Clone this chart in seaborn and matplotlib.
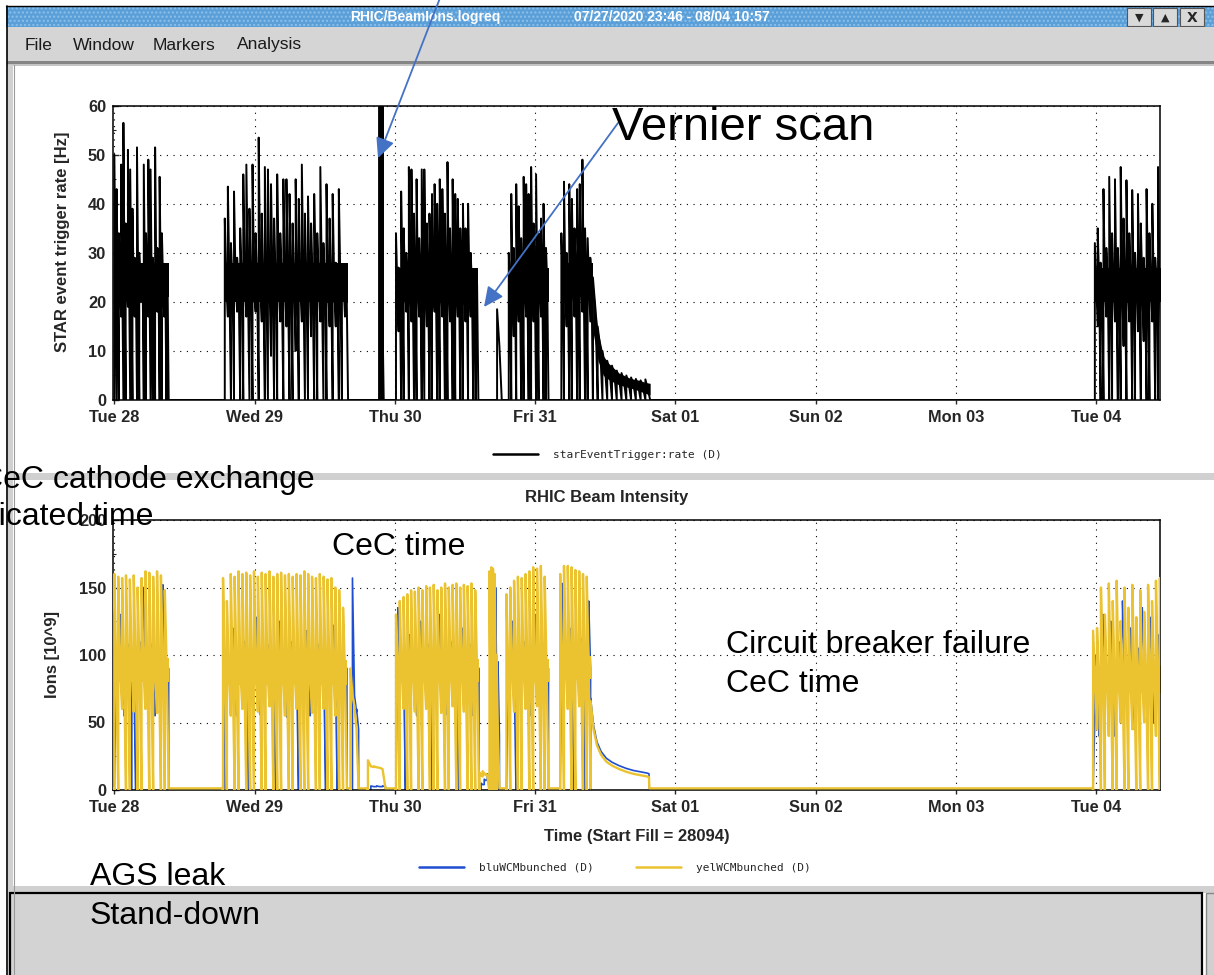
import numpy as np
import pandas as pd
import seaborn as sns
import matplotlib.pyplot as plt
from matplotlib.patches import Rectangle
from matplotlib.lines import Line2D
from matplotlib.ticker import MultipleLocator

sns.set_style("ticks")
plt.rcParams['font.family'] = ['Liberation Sans', 'DejaVu Sans']

# time axis: hours from Tue 28 Jul 2020 00:00
day_ticks = [0, 24, 48, 72, 96, 120, 144, 168]
day_labels = ['Tue 28', 'Wed 29', 'Thu 30', 'Fri 31', 'Sat 01', 'Sun 02', 'Mon 03', 'Tue 04']
x_start, x_end = -0.23, 178.95

# ---- STAR event trigger rate [Hz], read per fill block ----
trig_A_peak = [50, 43, 34, 48, 56.5, 36, 51, 47, 39, 29, 51.5, 30, 22, 48, 34, 49, 47, 29, 51.5, 31, 45.5, 34, 26, 22]
trig_A_floor = [0, 0, 0, 17, 0, 0, 19, 0, 0, 17, 0, 0, 20, 0, 0, 17, 0, 0, 0, 18, 0, 0, 17, 0]
trig_B_peak = [37, 43.5, 32, 42.5, 29, 35, 46, 48, 39, 48, 34, 53.5, 38, 47.5, 47, 44, 37, 46, 34, 45,
               45, 42, 36, 45, 41, 48, 38, 41.5, 36, 42, 34, 47.5, 32, 44, 37, 42, 28, 43, 25, 24]
trig_B_floor = [0, 17, 0, 0, 18, 0, 0, 17, 0, 0, 18, 0, 16, 0, 0, 9, 0, 0, 16, 0,
                15, 0, 0, 10, 0, 16, 0, 0, 13, 0, 0, 16, 0, 0, 15, 0, 15, 0, 0, 17]
trig_bar_peak = [65]
trig_bar_floor = [0]
trig_C_peak = [34, 27, 42.5, 35, 30, 47.5, 47, 38, 45, 33, 47, 47, 36, 38, 42, 44, 40, 45, 43, 38,
               48.5, 35, 45, 42, 41, 35, 40, 35, 40, 30, 25, 22]
trig_C_floor = [0, 14, 0, 0, 18, 0, 16, 0, 0, 17, 0, 0, 15, 0, 0, 18, 0, 0, 17, 0,
                0, 16, 0, 0, 17, 0, 0, 16, 0, 17, 0, 0]
trig_S_peak = [18.5]
trig_S_floor = [0]
trig_D_peak = [30, 42, 31, 44, 39.5, 33, 45.5, 44, 42, 47.5, 36, 46, 34, 37, 40, 31]
trig_D_floor = [0, 0, 13, 0, 16, 0, 0, 17, 0, 0, 16, 0, 0, 17, 0, 0]
trig_E_peak = [34, 44.5, 30, 44, 41, 35, 43, 44, 49, 35, 33, 29]
trig_E_floor = [0, 0, 15, 0, 0, 17, 0, 0, 18, 0, 0, 16]
trig_T_peak = [25, 15, 10, 8, 7, 6, 5.5, 5, 4.6, 4.3, 4, 4.2]
trig_T_floor = [0, 0, 0, 0, 0, 0, 0, 0, 0, 0, 0, 0]
trig_T_hi = [24, 14, 9, 7.5, 6.5, 5.5, 5, 4.5, 4.2, 4, 3.6, 3.4]
trig_T_lo = [14, 8, 5, 4.2, 3.6, 3.1, 2.8, 2.5, 2.2, 1.8, 1.4, 1.0]
trig_F_peak = [32, 35, 28, 43, 31, 45.5, 34, 45, 31, 47.5, 37, 44.8, 34, 42.8, 30, 42, 36, 29, 43, 34, 40, 29, 47.5, 33]
trig_F_floor = [0, 15, 0, 0, 17, 0, 0, 16, 0, 0, 11, 0, 16, 0, 0, 14, 0, 12, 0, 0, 16, 0, 0, 15]

# ---- RHIC beam intensity [10^9], yellow and blue rings ----
yel_A_peak = [160, 158, 157, 159, 156, 159, 150, 157, 162, 161, 158, 162, 159, 148]
yel_A_floor = [0, 0, 60, 0, 0, 58, 0, 0, 60, 0, 0, 57, 0, 0]
blu_A_peak = [92, 130, 65, 108, 92, 62, 110, 150, 92, 108, 65, 92, 152, 92]
blu_A_floor = [88, 120, 55, 96, 0, 0, 100, 138, 88, 98, 55, 88, 140, 88]
yel_B_peak = [157, 140, 160, 158, 162, 160, 161, 159, 162, 158, 161, 160, 162, 158, 160, 161,
              159, 160, 158, 160, 159, 162, 160, 158, 157, 160, 158, 156, 157, 150, 148, 135]
yel_B_floor = [0, 0, 55, 0, 0, 60, 0, 0, 0, 58, 0, 0, 62, 0, 0, 0,
               55, 0, 0, 60, 0, 0, 0, 57, 0, 0, 60, 0, 0, 55, 0, 0]
blu_B_peak = [62, 92, 120, 65, 92, 110, 60, 92, 128, 66, 92, 108, 92, 62, 125, 92,
              65, 110, 92, 60, 92, 118, 65, 92, 108, 92, 60, 92, 122, 64, 92, 92]
blu_B_floor = [0, 88, 108, 55, 88, 98, 0, 88, 115, 56, 88, 98, 88, 0, 112, 88,
               54, 98, 88, 0, 88, 106, 55, 88, 96, 88, 0, 88, 110, 0, 88, 88]
yel_K_peak = [90, 60]
yel_K_floor = [0, 62]
yel_K_mid = [70, 45]
blu_K_peak = [157, 60]
blu_K_floor = [0, 58]
yel_S_peak = [22, 17.5, 16.5]
yel_S_floor = [0, 17, 16.5]
yel_S_mid = [17.5, 16.8, 15.5]
blu_S_peak = [3, 3, 3]
blu_S_floor = [0, 2.5, 2.5]
yel_C_peak = [130, 140, 143, 145, 148, 147, 150, 148, 151, 150, 152,
              148, 150, 153, 150, 152, 153, 150, 152, 151, 153, 148]
yel_C_floor = [0, 0, 60, 0, 0, 58, 0, 0, 60, 0, 0, 0, 57, 0, 0, 62, 0, 0, 58, 0, 0, 0]
blu_C_peak = [135, 92, 62, 115, 92, 65, 125, 92, 108, 60, 92,
              130, 92, 64, 110, 92, 62, 120, 92, 108, 65, 92]
blu_C_floor = [125, 88, 0, 102, 88, 55, 112, 88, 96, 0, 88,
               118, 88, 56, 98, 88, 0, 108, 88, 96, 55, 88]
yel_M_peak = [13, 14, 12]
yel_M_floor = [0, 10, 11]
yel_M_mid = [11, 12, 11]
blu_M_peak = [5, 8, 12]
blu_M_floor = [0, 4, 8]
blu_M_mid = [4, 7, 11]
yel_P_peak = [162, 165, 164, 160]
yel_P_floor = [0, 0, 0, 0]
blu_P_peak = [130, 150, 148, 150]
blu_P_floor = [0, 120, 130, 135]
yel_Q_peak = [100]
blu_Q_peak = [95]
zero_floor = [0]
yel_D_peak = [145, 150, 155, 158, 157, 160, 162, 165, 164, 166, 158]
yel_D_floor = [0, 0, 58, 0, 0, 60, 0, 0, 62, 0, 0]
blu_D_peak = [92, 125, 62, 92, 110, 92, 65, 130, 92, 108, 92]
blu_D_floor = [88, 112, 0, 88, 98, 88, 55, 118, 88, 96, 88]
yel_E_peak = [160, 166, 166, 165, 163, 162, 160, 158]
yel_E_floor = [0, 0, 60, 0, 0, 62, 0, 0]
blu_E_peak = [153, 92, 120, 62, 92, 112, 65, 140]
blu_E_floor = [140, 88, 106, 0, 88, 100, 0, 125]
tail_hour = [81.5, 82.0, 82.6, 83.3, 84.2, 85.2, 86.4, 87.6, 88.8, 90.0, 91.2, 91.5]
tail_yel = [66, 45, 33, 26, 21, 18, 15.5, 13.5, 12, 11, 10, 9.5]
tail_blu = [68, 48, 35.5, 28.5, 23.5, 20.5, 18, 16, 14.5, 13.5, 12.5, 12]
tail_end = 91.55
yel_F_peak = [118, 120, 150, 130, 153, 140, 155, 125, 150, 135, 152, 128, 148, 132, 152, 140, 155, 157]
yel_F_floor = [0, 45, 0, 0, 40, 0, 0, 50, 0, 0, 45, 0, 0, 50, 0, 0, 40, 0]
blu_F_peak = [100, 65, 130, 92, 125, 60, 110, 140, 92, 120, 62, 105, 135, 92, 128, 65, 115, 125]
blu_F_floor = [60, 40, 115, 88, 110, 40, 95, 125, 88, 105, 45, 90, 118, 88, 112, 50, 100, 110]

BLUE = '#1f4fd0'
YELLOW = '#ebc230'
blu_name = 'bluWCMbunched (D)'
yel_name = 'yelWCMbunched (D)'

# blocks: (start hour, end hour, band low, band high, peaks, floors)
trig_blocks = [
    (0.0, 9.3, 21, 28, trig_A_peak, trig_A_floor),
    (18.9, 40.0, 20, 28, trig_B_peak, trig_B_floor),
    (45.3, 46.1, 0, 65, trig_bar_peak, trig_bar_floor),
    (48.2, 62.3, 20, 27, trig_C_peak, trig_C_floor),
    (65.5, 66.3, 11, 11, trig_S_peak, trig_S_floor),
    (67.5, 74.3, 20, 27, trig_D_peak, trig_D_floor),
    (76.5, 81.9, 21, 28, trig_E_peak, trig_E_floor),
    (81.9, 91.7, trig_T_lo, trig_T_hi, trig_T_peak, trig_T_floor),
    (167.8, 179.6, 20, 27, trig_F_peak, trig_F_floor),
]
yel_blocks = [
    (0.0, 9.3, 80, 98, yel_A_peak, yel_A_floor),
    (18.6, 39.8, 78, 96, yel_B_peak, yel_B_floor),
    (40.4, 41.8, yel_K_mid, yel_K_mid, yel_K_peak, yel_K_floor),
    (43.4, 46.4, yel_S_mid, yel_S_mid, yel_S_peak, yel_S_floor),
    (48.2, 62.4, 80, 97, yel_C_peak, yel_C_floor),
    (62.5, 64.1, yel_M_mid, yel_M_mid, yel_M_peak, yel_M_floor),
    (64.2, 65.4, 0, 160, yel_P_peak, yel_P_floor),
    (65.4, 65.9, 40, 40, yel_Q_peak, zero_floor),
    (67.1, 74.3, 80, 97, yel_D_peak, yel_D_floor),
    (76.3, 81.5, 82, 99, yel_E_peak, yel_E_floor),
]
yel_late = [(167.5, 179.6, 72, 92, yel_F_peak, yel_F_floor)]
blu_blocks = [
    (0.0, 9.3, 90, 90, blu_A_peak, blu_A_floor),
    (18.6, 39.8, 90, 90, blu_B_peak, blu_B_floor),
    (40.4, 41.8, yel_K_mid, yel_K_mid, blu_K_peak, blu_K_floor),
    (43.4, 46.4, 2.5, 2.5, blu_S_peak, blu_S_floor),
    (48.2, 62.4, 90, 90, blu_C_peak, blu_C_floor),
    (62.5, 64.1, blu_M_mid, blu_M_mid, blu_M_peak, blu_M_floor),
    (64.2, 65.4, 90, 90, blu_P_peak, blu_P_floor),
    (65.4, 65.9, 40, 40, blu_Q_peak, zero_floor),
    (67.1, 74.3, 90, 90, blu_D_peak, blu_D_floor),
    (76.3, 81.5, 90, 90, blu_E_peak, blu_E_floor),
]
blu_late = [(167.5, 179.6, 90, 90, blu_F_peak, blu_F_floor)]


def spiky(t0, t1, lo, hi, peak, floor, base, shift=0.0):
    n = len(peak)
    dt = (t1 - t0) / n
    mid = (np.broadcast_to(np.asarray(lo, float), (n,)) + np.broadcast_to(np.asarray(hi, float), (n,))) / 2
    xs, ys = [t0], [base]
    for i in range(n):
        t = t0 + (i + shift) * dt
        xs += [t, t, t + dt / 2]
        ys += [floor[i], peak[i], mid[i]]
    xs.append(t1)
    ys.append(base)
    return xs, ys


def trace(blocks, base, shift=0.0):
    xs, ys = [], []
    for b in blocks:
        bx, by = spiky(*b, base=base, shift=shift)
        xs += bx
        ys += by
    return xs, ys


def band(ax, blocks, color, z):
    for t0, t1, lo, hi, peak, floor in blocks:
        lo = np.atleast_1d(np.asarray(lo, float))
        hi = np.atleast_1d(np.asarray(hi, float))
        if np.allclose(lo, hi):
            continue
        n = max(len(lo), len(hi))
        knots = np.linspace(t0, t1, n) if n > 1 else np.array([t0, t1])
        ax.fill_between(knots, np.broadcast_to(lo, knots.shape), np.broadcast_to(hi, knots.shape),
                        color=color, lw=0, zorder=z)


trig_x, trig_y = trace(trig_blocks, 0.0)
df_trig = pd.DataFrame({'hour': trig_x, 'rate': trig_y})

yx, yy = trace(yel_blocks, 1.2)
yx2, yy2 = trace(yel_late, 1.2)
yel_x = yx + tail_hour + [tail_end] + yx2
yel_y = yy + tail_yel + [1.2] + yy2
bx, by = trace(blu_blocks, 0.3, shift=0.5)
bx2, by2 = trace(blu_late, 0.3, shift=0.5)
blu_x = bx + tail_hour + [tail_end] + bx2
blu_y = by + tail_blu + [0.3] + by2
df_int = pd.DataFrame({'hour': blu_x + yel_x, 'ions': blu_y + yel_y,
                       'ring': [blu_name] * len(blu_x) + [yel_name] * len(yel_x)})

W, H = 1214, 975
fig = plt.figure(figsize=(W / 100, H / 100), dpi=100)

# ---- window chrome (pixel coordinates) ----
bg = fig.add_axes([0, 0, 1, 1], zorder=-5)
bg.set_xlim(0, W)
bg.set_ylim(H, 0)
bg.axis('off')
bg.add_patch(Rectangle((6, 6), W - 6, 21, facecolor='#5b9fd8', edgecolor='#8cc0ea', hatch='....', lw=0))
bg.plot([6, W], [6, 6], color='black', lw=1)
bg.text(425, 17, 'RHIC/BeamIons.logreq', color='white', fontweight='bold', fontsize=10, ha='center', va='center')
bg.text(672, 17, '07/27/2020 23:46 - 08/04 10:57', color='white', fontweight='bold', fontsize=10, ha='center', va='center')
for bx0, sym in [(1127, '\u25BC'), (1153, '\u25B2'), (1180, 'X')]:
    bg.add_patch(Rectangle((bx0, 8), 24, 18, facecolor='#d9d9d9', edgecolor='#555555', lw=0.8))
    bg.text(bx0 + 12, 17.5, sym, fontsize=8 if sym != 'X' else 10, fontweight='bold',
            ha='center', va='center', family='DejaVu Sans')
bg.add_patch(Rectangle((7, 27), W - 7, 34, facecolor='#d5d5d5', lw=0))
bg.add_patch(Rectangle((7, 61), W - 7, 2.5, facecolor='#858585', lw=0))
bg.add_patch(Rectangle((7, 63.5), W - 7, 2, facecolor='#c4c4c4', lw=0))
for word, mx in zip(['File', 'Window', 'Markers', 'Analysis'], [25, 73, 153, 237]):
    bg.text(mx, 45, word, fontsize=12.5, color='#1a1a1a', ha='left', va='center')
bg.plot([6.5, 6.5], [6, H], color='black', lw=1.2)
bg.add_patch(Rectangle((8, 65), 5, H - 65, facecolor='#d0d0d0', lw=0))
bg.plot([13.5, 13.5], [65, H], color='#9a9a9a', lw=0.8)
bg.add_patch(Rectangle((13, 473), W - 13, 7, facecolor='#d0d0d0', lw=0))
bg.add_patch(Rectangle((13, 886), W - 13, 7, facecolor='#d0d0d0', lw=0))
bg.add_patch(Rectangle((10, 893), 1192, 90, facecolor='#d3d3d3', edgecolor='black', lw=1.6))
bg.add_patch(Rectangle((1206, 893), 10, 90, facecolor='#d0d0d0', edgecolor='#888888', lw=1))

# ---- top panel: trigger rate ----
ax1 = fig.add_axes([113 / W, 1 - 400 / H, 1047 / W, 294.3 / H])
band(ax1, trig_blocks, 'black', 2)
sns.lineplot(data=df_trig, x='hour', y='rate', color='black', sort=False, estimator=None,
             linewidth=1.4, legend=False, ax=ax1)
ax1.set_xlim(x_start, x_end)
ax1.set_ylim(0, 60)
ax1.set_yticks(range(0, 61, 10))
ax1.yaxis.set_minor_locator(MultipleLocator(5))
ax1.set_ylabel('STAR event trigger rate [Hz]', fontsize=12, fontweight='bold')
ax1.yaxis.set_label_coords(-0.0415, 0.537)

# ---- bottom panel: beam intensity ----
ax2 = fig.add_axes([113 / W, 1 - 790 / H, 1047 / W, 270 / H])
sns.lineplot(data=df_int, x='hour', y='ions', hue='ring', hue_order=[blu_name, yel_name],
             palette={blu_name: BLUE, yel_name: YELLOW}, sort=False, estimator=None,
             linewidth=1.7, legend=False, ax=ax2)
lines = ax2.get_lines()
lines[0].set_zorder(2)
lines[0].set_linewidth(1.2)
lines[1].set_zorder(3)
band(ax2, yel_blocks + yel_late, YELLOW, 2.5)
ax2.set_xlim(x_start, x_end)
ax2.set_ylim(0, 200)
ax2.set_yticks(range(0, 201, 50))
ax2.yaxis.set_minor_locator(MultipleLocator(25))
ax2.set_ylabel('Ions [10^9]', fontsize=12, fontweight='bold')
ax2.yaxis.set_label_coords(-0.0506, 0.5)
ax2.set_xlabel('Time (Start Fill = 28094)', fontsize=12, fontweight='bold')
ax2.xaxis.set_label_coords(0.5, -0.145)

for ax in (ax1, ax2):
    if ax is ax1:
        ax.set_xlabel('')
    ax.set_xticks(day_ticks)
    ax.set_xticklabels(day_labels)
    ax.set_axisbelow(True)
    ax.grid(True, which='major', color='black', linestyle=(0, (1, 5)), linewidth=0.8)
    ax.tick_params(axis='y', which='major', direction='in', length=4, width=1, labelsize=11.8, pad=5)
    ax.tick_params(axis='y', which='minor', direction='in', length=2.5, width=0.8)
    ax.tick_params(axis='x', direction='out', length=3, width=1, labelsize=11.8, pad=4)
    for lab in ax.get_xticklabels() + ax.get_yticklabels():
        lab.set_fontweight('bold')
    for sp in ax.spines.values():
        sp.set_linewidth(1.1)
        sp.set_color('black')

fig.text(607 / W, 1 - 497 / H, 'RHIC Beam Intensity', fontsize=12, fontweight='bold', ha='center', va='center')

mono = {'family': 'DejaVu Sans Mono', 'size': 8}
fig.legend([Line2D([0], [0], color='black', lw=1.8)], ['starEventTrigger:rate (D)'],
           loc='center', bbox_to_anchor=(607.5 / W, 1 - 455 / H), frameon=False, prop=mono,
           handlelength=4.0, handletextpad=1.4)
fig.legend([Line2D([0], [0], color=BLUE, lw=1.8), Line2D([0], [0], color=YELLOW, lw=1.8)],
           [blu_name, yel_name], loc='center', bbox_to_anchor=(615 / W, 1 - 868 / H), ncol=2,
           frameon=False, prop=mono, handlelength=4.0, handletextpad=1.4, columnspacing=3.8)

# ---- slide annotations on top ----
ov = fig.add_axes([0, 0, 1, 1], zorder=10)
ov.set_xlim(0, W)
ov.set_ylim(H, 0)
ov.axis('off')
ov.patch.set_visible(False)
arrow_kw = dict(arrowstyle='-|>,head_length=0.8,head_width=0.38', color='#4472c4', lw=1.3,
                shrinkA=0, shrinkB=0, mutation_scale=15)
ov.annotate('', xy=(378, 158), xytext=(440, -2), arrowprops=arrow_kw, annotation_clip=False)
ov.annotate('', xy=(484, 307), xytext=(618, 123), arrowprops=arrow_kw, annotation_clip=False)
notes = [
    ('Vernier scan', 612, 140, 34),
    ('CeC cathode exchange', -20, 488, 23),
    ('Dedicated time', -60, 525, 23),
    ('CeC time', 332, 555, 23),
    ('Circuit breaker failure', 726, 653, 23),
    ('CeC time', 726, 692, 23),
    ('AGS leak', 90, 885, 23),
    ('Stand-down', 90, 924, 23),
]
for txt, nx, ny, fs in notes:
    ov.text(nx, ny, txt, fontsize=fs, color='black', ha='left', va='baseline', clip_on=False)

fig.savefig('out.png', dpi=100)
